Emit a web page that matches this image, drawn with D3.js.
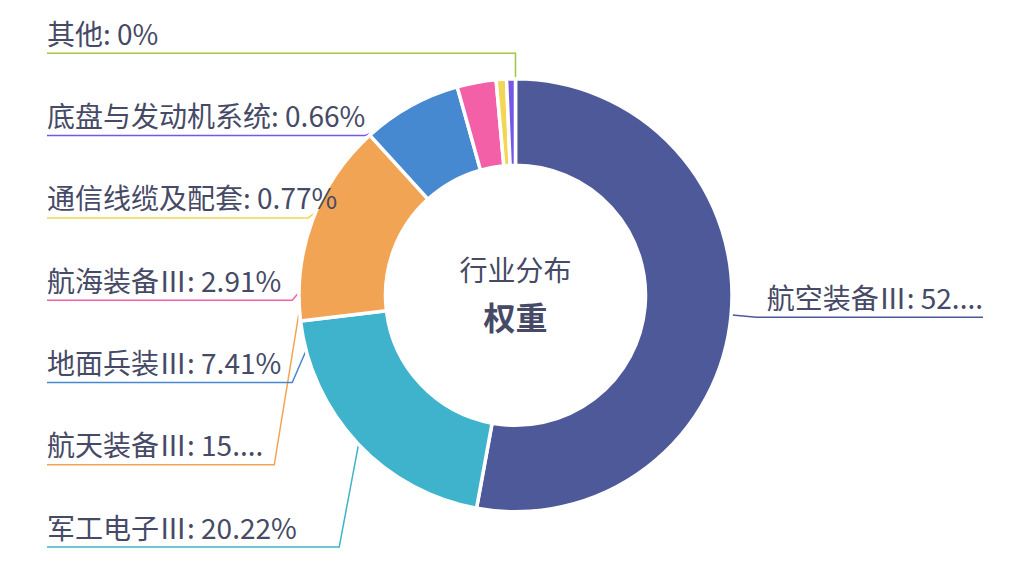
<!DOCTYPE html>
<html>
<head>
<meta charset="utf-8">
<script src="https://cdn.jsdelivr.net/npm/d3@7"></script>
<style>
  html, body { margin: 0; padding: 0; background: #fff; }
  svg { display: block; }
  text { font-family: "Microsoft YaHei", "Noto Sans CJK SC", "Noto Sans", sans-serif; }
</style>
</head>
<body>
<svg id="chart" width="1014" height="566"></svg>
<script>
// ---- data ----
const categories = ['航空装备Ⅲ', '军工电子Ⅲ', '航天装备Ⅲ', '地面兵装Ⅲ', '航海装备Ⅲ', '通信线缆及配套', '底盘与发动机系统', '其他'];
const weights = [52.88, 20.22, 15.15, 7.41, 2.91, 0.77, 0.66, 0];
const colors = ['#4e599a', '#3fb3cc', '#f2a455', '#4689d0', '#f460a8', '#f2d656', '#7359e6', '#a5c640'];
const centerTitle = '行业分布';
const centerSub = '权重';

// ---- layout ----
const W = 1014, H = 566;
const cx = 515.5, cy = 295.3;
const R = 216.5, R0 = 130;
const lineLen = 27;          // first label-line segment
const spacing = 82.3;        // vertical spacing of labels
const edgeLeft = 47, edgeRight = 983;
const fontSize = 28;
const textColor = '#464a66';

const svg = d3.select('#chart');
svg.append('rect').attr('width', W).attr('height', H).attr('fill', '#fff');

const data = categories.map((c, i) => ({ name: c, value: weights[i], color: colors[i] }));
const pie = d3.pie().sort(null).value(d => d.value).startAngle(0).endAngle(2 * Math.PI);
const arcs = pie(data);
const arcGen = d3.arc().innerRadius(R0).outerRadius(R);

const gLines = svg.append('g');
const gPie = svg.append('g').attr('transform', `translate(${cx},${cy})`);
const gLabels = svg.append('g');

// measure helper
const measurer = svg.append('text').attr('font-size', fontSize).attr('visibility', 'hidden');
function textWidth(s) { measurer.text(s); return measurer.node().getComputedTextLength(); }
function truncate(s, maxW) {
  if (textWidth(s) <= maxW) return s;
  const ell = '...';
  let t = s;
  while (t.length > 0 && textWidth(t + ell) > maxW) t = t.slice(0, -1);
  return t + ell;
}

// label positions
const Rl = 215 + lineLen;
const items = arcs.map(a => {
  const mid = (a.startAngle + a.endAngle) / 2;
  const left = mid > Math.PI;
  return {
    a, mid, left,
    p0: [cx + 215 * Math.sin(mid), cy - 215 * Math.cos(mid)],
    nat: [cx + Rl * Math.sin(mid), cy - Rl * Math.cos(mid)],
    text: `${a.data.name}: ${a.data.value}%`
  };
});

['left', 'right'].forEach(side => {
  const list = items.filter(d => (side === 'left') === d.left).sort((p, q) => p.nat[1] - q.nat[1]);
  let prev = -Infinity;
  list.forEach(d => {
    d.y = Math.max(d.nat[1], prev + spacing);
    prev = d.y;
  });
  const overflow = prev - (H - 10);
  if (overflow > 0) list.forEach(d => d.y -= overflow);
});

items.forEach(d => {
  const avail = d.left ? (d.nat[0] - edgeLeft - 20) : (edgeRight - d.nat[0] - 2);
  d.label = truncate(d.text, avail);
  d.tw = textWidth(d.label);
  const dy = Math.abs(d.y - cy);
  if (d.left) {
    const textEnd = edgeLeft + d.tw;
    let bx;
    if (dy < 215) {
      const edgeX = cx - Math.sqrt(215 * 215 - dy * dy);
      bx = Math.min(edgeX - 7, textEnd + 11);
    } else {
      bx = Math.max(textEnd + 11, d.nat[0]);
    }
    d.p1 = [bx, d.y];
    d.p2 = [edgeLeft, d.y];
  } else {
    d.p1 = [d.nat[0], d.y];
    d.p2 = [edgeRight, d.y];
  }
});

// label lines (beneath the pie)
gLines.selectAll('path').data(items).join('path')
  .attr('d', d => d3.line()([d.p0, d.p1, d.p2]))
  .attr('fill', 'none')
  .attr('stroke', d => d.a.data.color)
  .attr('stroke-width', 1.5);

// slices
gPie.selectAll('path').data(arcs.filter(a => a.data.value > 0)).join('path')
  .attr('d', arcGen)
  .attr('fill', d => d.data.color)
  .attr('stroke', '#fff')
  .attr('stroke-width', 3.5)
  .attr('stroke-linejoin', 'miter');

// labels
gLabels.selectAll('text').data(items).join('text')
  .attr('x', d => d.left ? edgeLeft : edgeRight)
  .attr('y', d => d.y - 8.5)
  .attr('text-anchor', d => d.left ? 'start' : 'end')
  .attr('font-size', fontSize)
  .attr('fill', textColor)
  .text(d => d.label);

// center text
svg.append('text').attr('x', cx).attr('y', 268.5)
  .attr('text-anchor', 'middle').attr('dominant-baseline', 'central')
  .attr('font-size', 28).attr('fill', textColor).text(centerTitle);
svg.append('text').attr('x', cx).attr('y', 315.5)
  .attr('text-anchor', 'middle').attr('dominant-baseline', 'central')
  .attr('font-size', 32).attr('font-weight', 'bold').attr('fill', textColor).text(centerSub);

measurer.remove();
</script>
</body>
</html>
